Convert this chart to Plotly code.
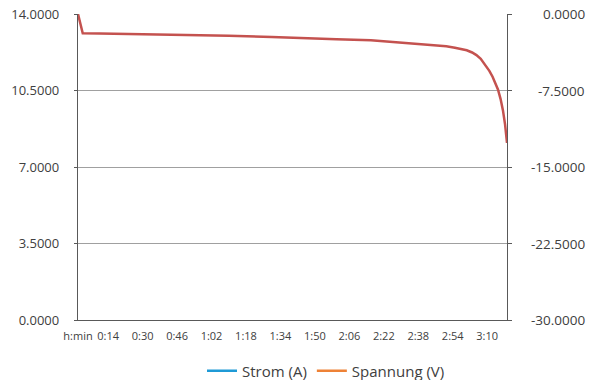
import plotly.graph_objects as go

# time in minutes
time_min = [0, 2.2, 10, 30, 50, 70, 90, 103, 120, 136, 151, 160, 166, 171, 175, 178, 180.5, 183, 185, 187, 189, 191, 192.5, 193.8, 195, 196.2, 197.3, 198.3, 199.2]
spannung_v = [14.0, 13.12, 13.11, 13.08, 13.04, 13.0, 12.95, 12.92, 12.85, 12.8, 12.69, 12.63, 12.58, 12.52, 12.46, 12.41, 12.34, 12.24, 12.12, 11.95, 11.7, 11.4, 11.13, 10.86, 10.55, 10.12, 9.6, 8.95, 8.1]
# current is positive, hence above the 0 of the (negative) right axis and clipped
strom_a = [2.2] * len(time_min)

x_tickvals = [0, 14, 30, 46, 62, 78, 94, 110, 126, 142, 158, 174, 190]
x_ticktext = ["h:min", "0:14", "0:30", "0:46", "1:02", "1:18", "1:34", "1:50", "2:06", "2:22", "2:38", "2:54", "3:10"]
y_tickvals = [0, 3.5, 7, 10.5, 14]
y_ticktext = ["0.0000", "3.5000", "7.0000", "10.5000", "14.0000"]
y2_tickvals = [0, -7.5, -15, -22.5, -30]
y2_ticktext = ["0.0000", "-7.5000", "-15.0000", "-22.5000", "-30.0000"]

FONT = "Open Sans"
TXT = "#404040"
AX = "#595959"

fig = go.Figure()
fig.add_trace(go.Scatter(x=time_min, y=strom_a, yaxis="y2", mode="lines",
                         line=dict(color="#1f9ad6", width=2.5), name="Strom (A)"))
fig.add_trace(go.Scatter(x=time_min, y=spannung_v, mode="lines",
                         line=dict(color="#c4524f", width=2.5),
                         name="Spannung (V)", legendgroup="sp", showlegend=False))
fig.add_trace(go.Scatter(x=[None], y=[None], mode="lines",
                         line=dict(color="#ee8236", width=2.5), name="Spannung (V)",
                         legendgroup="sp"))

fig.update_layout(
    width=589, height=380,
    margin=dict(l=78, r=82, t=14, b=60),
    paper_bgcolor="white", plot_bgcolor="white",
    font=dict(family=FONT, color=TXT),
    xaxis=dict(range=[0, 199.2], tickvals=x_tickvals, ticktext=x_ticktext, automargin=False,
               showgrid=False, zeroline=False, showline=True, linecolor=AX, linewidth=1.3,
               ticks="", tickfont=dict(size=11, color=TXT), ticklabelstandoff=6),
    yaxis=dict(range=[0, 14], tickvals=y_tickvals, ticktext=y_ticktext, automargin=False,
               showgrid=True, gridcolor="#a0a0a0", gridwidth=1, zeroline=False,
               showline=True, linecolor=AX, linewidth=1.3,
               ticks="outside", ticklen=3, tickcolor=AX,
               tickfont=dict(size=13, color=TXT), ticklabelstandoff=12),
    yaxis2=dict(range=[-30, 0], overlaying="y", side="right", tickvals=y2_tickvals,
                automargin=False, showticklabels=False, showgrid=False, zeroline=False,
                showline=True, linecolor=AX, linewidth=1.3,
                ticks="outside", ticklen=4, tickcolor=AX),
    legend=dict(orientation="h", xref="container", yref="container",
                x=202 / 589, xanchor="left", y=1 - 371 / 380, yanchor="middle",
                font=dict(size=15, color=TXT), itemwidth=30, traceorder="normal"),
    showlegend=True,
)

for v, t in zip(y2_tickvals, y2_ticktext):
    fig.add_annotation(x=1.187, xref="paper", y=v, yref="y2", text=t, showarrow=False,
                       xanchor="right", yanchor="middle", font=dict(size=13.5, color=TXT, family=FONT))

fig.write_html("out.html", config={"displayModeBar": False},
               post_script="document.body.style.margin='0';")
